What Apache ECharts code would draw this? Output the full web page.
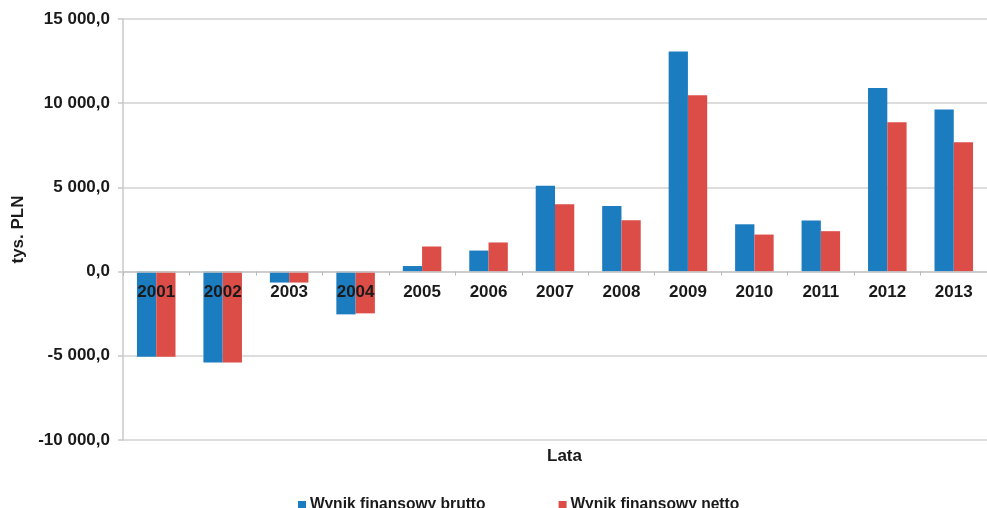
<!DOCTYPE html>
<html><head><meta charset="utf-8">
<script src="https://cdn.jsdelivr.net/npm/echarts@6/dist/echarts.min.js"></script>
<style>html,body{margin:0;padding:0;background:#fff}#c{width:987px;height:508px}</style>
</head><body><div id="c"></div>
<script>
const years = ['2001','2002','2003','2004','2005','2006','2007','2008','2009','2010','2011','2012','2013'];
const brutto = [-5050, -5400, -650, -2540, 330, 1250, 5100, 3900, 13070, 2810, 3040, 10910, 9620];
const netto  = [-5050, -5400, -650, -2480, 1490, 1730, 4000, 3050, 10470, 2200, 2400, 8870, 7680];
const seriesNames = ['Wynik finansowy brutto', 'Wynik finansowy netto'];
const yTicks = {min: -10000, max: 15000, interval: 5000};

function fmt(v){
  const neg = v < 0; const a = Math.abs(v);
  const s = String(Math.round(a)).replace(/\B(?=(\d{3})+(?!\d))/g, ' ');
  return (neg ? '-' : '') + s + ',0';
}
const F = 'Liberation Sans, Arial, sans-serif';
const gridTop = 19, gridBottom = 68, H = 508;
const plotH = H - gridTop - gridBottom;
const zeroOffset = -(0 - yTicks.min) / (yTicks.max - yTicks.min) * plotH;
const chart = echarts.init(document.getElementById('c'), null, {renderer:'canvas'});
chart.setOption({
  animation: false,
  backgroundColor: '#fff',
  color: ['#1c7cc0', '#dc4d48'],
  title: {text: 'Lata', left: 542, top: 443, textStyle: {fontFamily: F, fontSize: 17, fontWeight: 'bold', color: '#1a1a1a'}},
  legend: {
    data: seriesNames, left: 293, top: 492, icon: 'rect', itemWidth: 8, itemHeight: 8, itemGap: 73,
    textStyle: {fontFamily: F, fontSize: 15.6, fontWeight: 'bold', color: '#1a1a1a', padding: [0,0,0,-1]}
  },
  grid: {left: 123, right: -8, top: gridTop, bottom: gridBottom, containLabel: false},
  xAxis: {
    type: 'category', data: years, z: 10, offset: zeroOffset,
    axisLine: {onZero: false, lineStyle: {color: '#c8c8c8', width: 1.5}},
    axisTick: {show: true, length: 4, lineStyle: {color: '#b8b8b8'}},
    axisLabel: {fontFamily: F, fontSize: 17, fontWeight: 'bold', color: '#1a1a1a', margin: 12},
    splitLine: {show: false}
  },
  yAxis: {
    type: 'value', min: yTicks.min, max: yTicks.max, interval: yTicks.interval,
    name: 'tys. PLN', nameLocation: 'middle', nameRotate: 90, nameGap: 92,
    nameTextStyle: {fontFamily: F, fontSize: 17, fontWeight: 'bold', color: '#1a1a1a'},
    axisLine: {show: true, lineStyle: {color: '#c8c8c8', width: 1.5}},
    axisTick: {show: true, length: 5, lineStyle: {color: '#c8c8c8', width: 1.5}},
    axisLabel: {fontFamily: F, fontSize: 17, fontWeight: 'bold', color: '#1a1a1a', margin: 13, formatter: fmt},
    splitLine: {lineStyle: {color: '#d2d2d2', width: 1.5}}
  },
  series: [
    {name: seriesNames[0], type: 'bar', data: brutto, barGap: '0%', barCategoryGap: '42%'},
    {name: seriesNames[1], type: 'bar', data: netto, barGap: '0%', barCategoryGap: '42%'}
  ]
});
</script></body></html>
